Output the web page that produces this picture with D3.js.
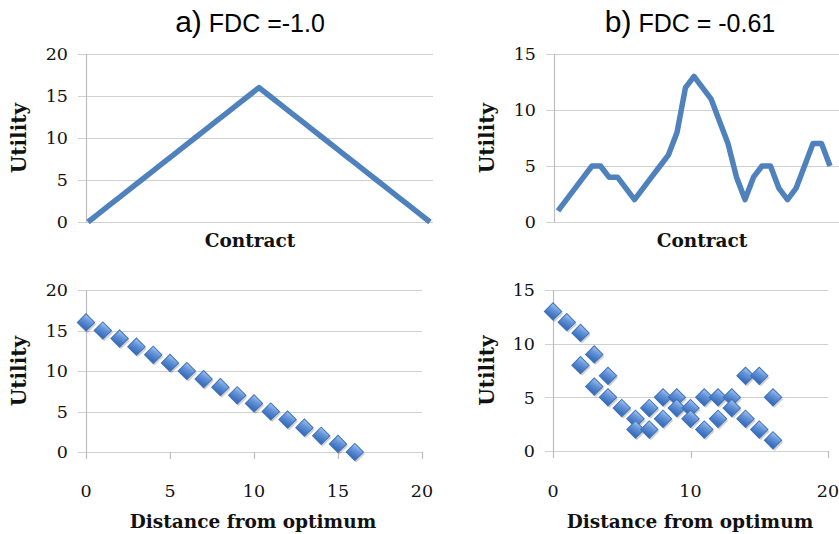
<!DOCTYPE html>
<html>
<head>
<meta charset="utf-8">
<script src="https://cdn.jsdelivr.net/npm/d3@7"></script>
<style>
  body { margin: 0; background: #fff; }
  svg { display: block; }
</style>
</head>
<body>
<div id="chart"></div>
<script>
// a) FDC = -1.0 : utility per contract (line) and vs distance (scatter)
const utilityA = [0, 1, 2, 3, 4, 5, 6, 7, 8, 9, 10, 11, 12, 13, 14, 15, 16,
                  15, 14, 13, 12, 11, 10, 9, 8, 7, 6, 5, 4, 3, 2, 1, 0];
const distanceA = [0, 1, 2, 3, 4, 5, 6, 7, 8, 9, 10, 11, 12, 13, 14, 15, 16];
const scatterA  = [16, 15, 14, 13, 12, 11, 10, 9, 8, 7, 6, 5, 4, 3, 2, 1, 0];

// b) FDC = -0.61
const utilityB = [1, 2, 3, 4, 5, 5, 4, 4, 3, 2, 3, 4, 5, 6, 8, 12, 13,
                  12, 11, 9, 7, 4, 2, 4, 5, 5, 3, 2, 3, 5, 7, 7, 5];
const distanceB = [0, 1, 2, 2, 3, 3, 4, 4, 5, 6, 6, 7, 7, 8, 8, 9, 9, 10, 10,
                   11, 11, 12, 12, 13, 13, 14, 14, 15, 15, 16, 16];
const scatterB  = [13, 12, 11, 8, 9, 6, 7, 5, 4, 3, 2, 4, 2, 5, 3, 5, 4, 4, 3,
                   5, 2, 5, 3, 5, 4, 7, 3, 7, 2, 5, 1];

const yTicksA = [0, 5, 10, 15, 20];
const yTicksB = [0, 5, 10, 15];
const xTicksA = [0, 5, 10, 15, 20];
const xTicksB = [0, 10, 20];

const width = 839, height = 534;
const blue = "#4f81bd";
const serif = "'DejaVu Serif', serif";
const sans = "'Liberation Sans', Arial, sans-serif";

const svg = d3.select("#chart").append("svg")
    .attr("width", width)
    .attr("height", height)
    .attr("viewBox", [0, 0, width, height]);

const defs = svg.append("defs");
const grad = defs.append("linearGradient")
    .attr("id", "diamondFill")
    .attr("x1", 0).attr("y1", 0).attr("x2", 0.3).attr("y2", 1);
grad.append("stop").attr("offset", "0%").attr("stop-color", "#a9c6ef");
grad.append("stop").attr("offset", "45%").attr("stop-color", "#6595da");
grad.append("stop").attr("offset", "100%").attr("stop-color", "#3b6fbc");

// titles
function title(cx, letter, rest) {
    const t = svg.append("text")
        .attr("x", cx)
        .attr("y", 32)
        .attr("text-anchor", "middle")
        .attr("font-family", sans)
        .attr("fill", "#000");
    t.append("tspan").attr("font-size", 30).text(letter);
    t.append("tspan").attr("font-size", 25).text(rest);
}
title(250, "a)", " FDC =-1.0");
title(690, "b)", " FDC = -0.61");

function axisFrame(g, x0, x1, yScale, yTicks, gridLeft, labelX, bottomTick) {
    g.append("g")
        .selectAll("line")
        .data(yTicks)
        .join("line")
        .attr("x1", gridLeft)
        .attr("x2", x1)
        .attr("y1", d => Math.round(yScale(d)) + 0.5)
        .attr("y2", d => Math.round(yScale(d)) + 0.5)
        .attr("stroke", "#d0d0d0")
        .attr("stroke-width", 1.2);

    g.append("line")
        .attr("x1", x0 + 0.5).attr("x2", x0 + 0.5)
        .attr("y1", yScale(d3.max(yTicks)))
        .attr("y2", yScale(0) + bottomTick)
        .attr("stroke", "#bdbdbd")
        .attr("stroke-width", 1.2);

    g.append("g")
        .selectAll("text")
        .data(yTicks)
        .join("text")
        .attr("x", labelX)
        .attr("y", d => yScale(d))
        .attr("dy", "0.36em")
        .attr("text-anchor", "end")
        .attr("font-family", serif)
        .attr("font-size", 17.5)
        .attr("fill", "#111")
        .text(d => d);
}

function yLabel(g, x, y) {
    g.append("text")
        .attr("transform", `translate(${x},${y}) rotate(-90)`)
        .attr("text-anchor", "middle")
        .attr("dy", "0.35em")
        .attr("font-family", serif)
        .attr("font-weight", "bold")
        .attr("font-size", 20)
        .attr("fill", "#111")
        .text("Utility");
}

function xLabel(g, x, y, text) {
    g.append("text")
        .attr("x", x)
        .attr("y", y)
        .attr("text-anchor", "middle")
        .attr("font-family", serif)
        .attr("font-weight", "bold")
        .attr("font-size", 18.5)
        .attr("fill", "#111")
        .text(text);
}

function linePanel(values, {left, right, lineLeft, lineRight, top, bottom, yMax, yTicks, utilX, labelCx}) {
    const g = svg.append("g");
    const x = d3.scaleLinear().domain([0, values.length - 1]).range([lineLeft, lineRight]);
    const y = d3.scaleLinear().domain([0, yMax]).range([bottom, top]);
    axisFrame(g, left, right, y, yTicks, left - 8, left - 18, 0);
    g.append("path")
        .datum(values)
        .attr("fill", "none")
        .attr("stroke", blue)
        .attr("stroke-width", 5.5)
        .attr("stroke-linejoin", "round")
        .attr("d", d3.line().x((d, i) => x(i)).y(d => y(d)));
    yLabel(g, utilX, (top + bottom) / 2);
    xLabel(g, labelCx, 247, "Contract");
}

function scatterPanel(xs, ys, {left, right, top, bottom, yMax, yTicks, xTicks, utilX, labelCx}) {
    const g = svg.append("g");
    const x = d3.scaleLinear().domain([0, 20]).range([left, right]);
    const y = d3.scaleLinear().domain([0, yMax]).range([bottom, top]);
    axisFrame(g, left, right, y, yTicks, left - 8, left - 18, 7);

    g.append("g")
        .selectAll("line")
        .data(xTicks.slice(1))
        .join("line")
        .attr("x1", d => Math.round(x(d)) + 0.5)
        .attr("x2", d => Math.round(x(d)) + 0.5)
        .attr("y1", bottom)
        .attr("y2", bottom + 7)
        .attr("stroke", "#bdbdbd")
        .attr("stroke-width", 1.2);

    g.append("g")
        .selectAll("text")
        .data(xTicks)
        .join("text")
        .attr("x", d => x(d))
        .attr("y", 497)
        .attr("text-anchor", "middle")
        .attr("font-family", serif)
        .attr("font-size", 17.5)
        .attr("fill", "#111")
        .text(d => d);

    const diamond = d3.symbol().type(d3.symbolSquare).size(150);
    const pts = xs.map((d, i) => [d, ys[i]]);
    // soft shadow under each marker
    g.append("g")
        .selectAll("path")
        .data(pts)
        .join("path")
        .attr("transform", d => `translate(${x(d[0]) + 1.5},${y(d[1]) + 2}) rotate(45)`)
        .attr("d", diamond)
        .attr("fill", "#000")
        .attr("opacity", 0.18);
    g.append("g")
        .selectAll("path")
        .data(pts)
        .join("path")
        .attr("transform", d => `translate(${x(d[0])},${y(d[1])}) rotate(45)`)
        .attr("d", diamond)
        .attr("fill", "url(#diamondFill)")
        .attr("stroke", "#3f72b6")
        .attr("stroke-width", 1);

    yLabel(g, utilX, (top + bottom) / 2);
    xLabel(g, labelCx, 528, "Distance from optimum");
}

linePanel(utilityA, {
    left: 86, right: 433, lineLeft: 88, lineRight: 430,
    top: 54, bottom: 222, yMax: 20, yTicks: yTicksA, utilX: 19, labelCx: 250
});
linePanel(utilityB, {
    left: 554, right: 839, lineLeft: 558, lineRight: 830,
    top: 54, bottom: 222, yMax: 15, yTicks: yTicksB, utilX: 487, labelCx: 702
});
scatterPanel(distanceA, scatterA, {
    left: 86, right: 422, top: 290, bottom: 452, yMax: 20,
    yTicks: yTicksA, xTicks: xTicksA, utilX: 19, labelCx: 253
});
scatterPanel(distanceB, scatterB, {
    left: 553, right: 828, top: 290, bottom: 451, yMax: 15,
    yTicks: yTicksB, xTicks: xTicksB, utilX: 487, labelCx: 690
});
</script>
</body>
</html>
